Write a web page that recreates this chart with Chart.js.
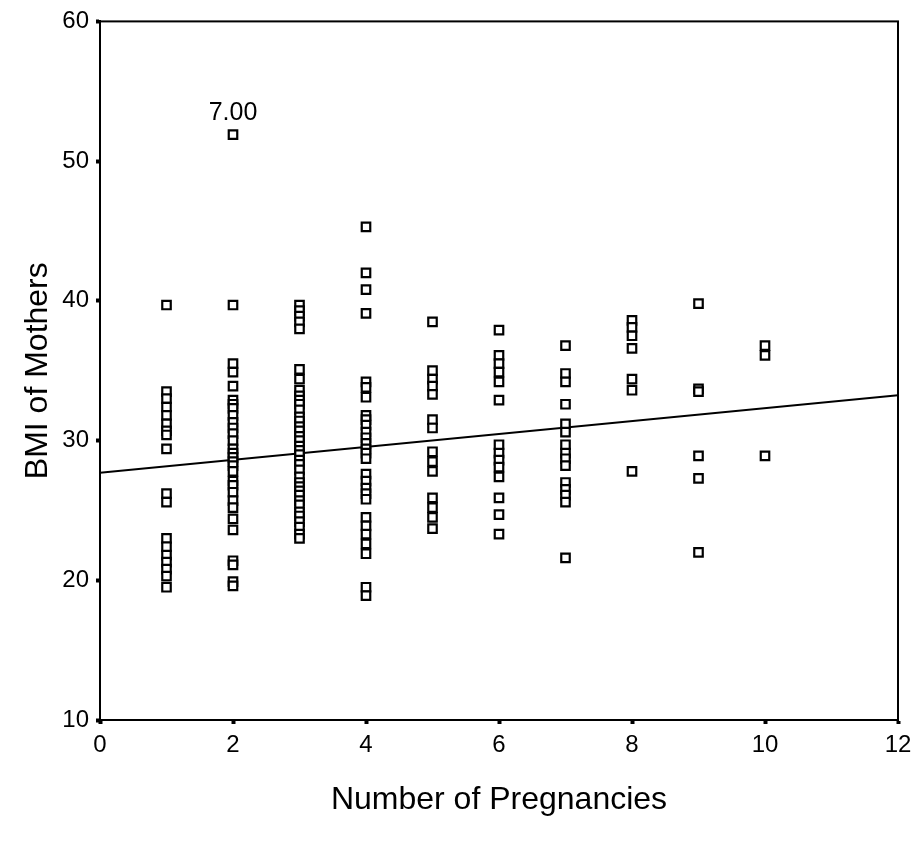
<!DOCTYPE html>
<html>
  <head>
    <title>BMI of Mothers vs Number of Pregnancies</title>
    <script src="https://cdn.jsdelivr.net/npm/chart.js@4.4.0/dist/chart.umd.min.js"></script>
    <style>
      body { margin: 0; background: #fff; }
      #wrap { width: 920px; height: 844px; }
    </style>
  </head>
  <body>
    <div id="wrap"><canvas id="bmiChart"></canvas></div>
    <script>
      // BMI values, one list per number of pregnancies
      var bmi1 = [39.7, 33.5, 33.0, 32.4, 31.8, 31.2, 30.7, 30.4, 29.4, 26.2, 25.6, 23.0, 22.4, 21.8, 21.3, 20.8, 20.3, 19.5];
      var bmi2 = [51.9, 39.7, 35.5, 34.9, 33.9, 32.9, 32.6, 32.3, 31.8, 31.3, 30.9, 30.5, 30.0, 29.4, 29.1, 28.8, 28.5, 28.2, 27.8,
                  27.1, 26.8, 26.3, 25.7, 25.2, 24.4, 23.6, 21.4, 21.1, 19.9, 19.6];
      var bmi3 = [39.7, 39.3, 38.9, 38.5, 38.0, 35.1, 34.4, 33.6, 33.2, 32.9, 32.6, 32.2, 31.7, 31.4, 31.0, 30.7, 30.3, 30.0,
                  29.6, 29.3, 29.0, 28.6, 28.3, 27.9, 27.4, 27.0, 26.7, 26.4, 26.1, 25.7, 25.4, 24.9, 24.6, 24.2, 23.8, 23.3, 23.0];
      var bmi4 = [45.3, 42.0, 40.8, 39.1, 34.2, 33.8, 33.1, 31.8, 31.5, 31.1, 30.6, 30.2, 29.8, 29.4, 29.1, 28.7,
                  27.6, 27.1, 26.6, 26.2, 25.8, 24.5, 23.9, 23.3, 22.6, 21.9, 19.5, 18.9];
      var bmi5 = [38.5, 35.0, 34.4, 33.9, 33.3, 31.5, 30.9, 29.2, 28.5, 27.8, 25.9, 25.2, 24.5, 23.7];
      var bmi6 = [37.9, 36.1, 35.5, 34.9, 34.2, 32.9, 29.7, 29.1, 28.6, 28.1, 27.4, 25.9, 24.7, 23.3];
      var bmi7 = [36.8, 34.8, 34.2, 32.6, 31.2, 30.6, 29.7, 29.1, 28.7, 28.2, 27.0, 26.5, 26.1, 25.6, 21.6];
      var bmi8 = [38.6, 38.1, 37.5, 36.6, 34.4, 33.6, 27.8];
      var bmi9 = [39.8, 33.7, 33.5, 28.9, 27.3, 22.0];
      var bmi10 = [36.8, 36.1, 28.9];

      var pregnancies = [1, 2, 3, 4, 5, 6, 7, 8, 9, 10];
      var bmiByPregnancy = [bmi1, bmi2, bmi3, bmi4, bmi5, bmi6, bmi7, bmi8, bmi9, bmi10];

      // fit line ends
      var fitX = [0, 12];
      var fitY = [27.7, 33.25];

      // labelled case
      var caseLabel = "7.00";
      var casePoint = { x: 2, y: 51.9 };

      var points = [];
      pregnancies.forEach(function(p, i) {
        bmiByPregnancy[i].forEach(function(v) { points.push({ x: p, y: v }); });
      });

      var fitLine = fitX.map(function(x, i) { return { x: x, y: fitY[i] }; });

      var fontFamily = "'Liberation Sans', Arial, sans-serif";

      // draws the box round the plot and the case label
      var framePlugin = {
        id: 'frame',
        afterDraw: function(chart) {
          var ctx = chart.ctx;
          var a = chart.chartArea;
          ctx.save();
          ctx.strokeStyle = '#000';
          ctx.lineWidth = 2;
          ctx.strokeRect(a.left, a.top, a.right - a.left, a.bottom - a.top);
          var px = chart.scales.x.getPixelForValue(casePoint.x);
          var py = chart.scales.y.getPixelForValue(casePoint.y);
          ctx.fillStyle = '#000';
          ctx.font = '25px ' + fontFamily;
          ctx.textAlign = 'center';
          ctx.textBaseline = 'bottom';
          ctx.fillText(caseLabel, px, py - 9);
          ctx.restore();
        }
      };

      var ctx = document.getElementById("bmiChart").getContext("2d");
      var chart = new Chart(ctx, {
        type: "scatter",
        data: {
          datasets: [
            {
              label: "BMI",
              data: points,
              pointStyle: 'rect',
              pointRadius: 6,
              pointBorderWidth: 2.2,
              pointBorderColor: '#000',
              pointBackgroundColor: '#fff',
              order: 1
            },
            {
              type: 'line',
              label: 'Fit',
              data: fitLine,
              borderColor: '#000',
              borderWidth: 2,
              pointRadius: 0,
              fill: false,
              order: 2
            }
          ]
        },
        options: {
          responsive: true,
          maintainAspectRatio: false,
          animation: false,
          layout: { padding: { top: 20, right: 22, left: 0, bottom: 0 } },
          plugins: {
            legend: { display: false },
            tooltip: { enabled: false }
          },
          scales: {
            x: {
              type: 'linear',
              min: 0,
              max: 12,
              ticks: { stepSize: 2, color: '#000', padding: 7, font: { family: fontFamily, size: 24 } },
              grid: { drawOnChartArea: false, tickLength: 4, tickWidth: 4, color: '#000' },
              border: { color: '#000', width: 2 },
              title: {
                display: true,
                text: 'Number of Pregnancies',
                color: '#000',
                font: { family: fontFamily, size: 32 },
                padding: { top: 0, bottom: 25 }
              },
              afterFit: function(scale) { scale.height = 124; }
            },
            y: {
              min: 10,
              max: 60,
              ticks: { stepSize: 10, color: '#000', padding: 7, font: { family: fontFamily, size: 24 } },
              grid: { drawOnChartArea: false, tickLength: 4, tickWidth: 4, color: '#000' },
              border: { color: '#000', width: 2 },
              title: {
                display: true,
                text: 'BMI of Mothers',
                color: '#000',
                font: { family: fontFamily, size: 32 },
                padding: { top: 19, bottom: 0 }
              },
              afterFit: function(scale) { scale.width = 100; }
            }
          }
        },
        plugins: [framePlugin]
      });
    </script>
  </body>
</html>
